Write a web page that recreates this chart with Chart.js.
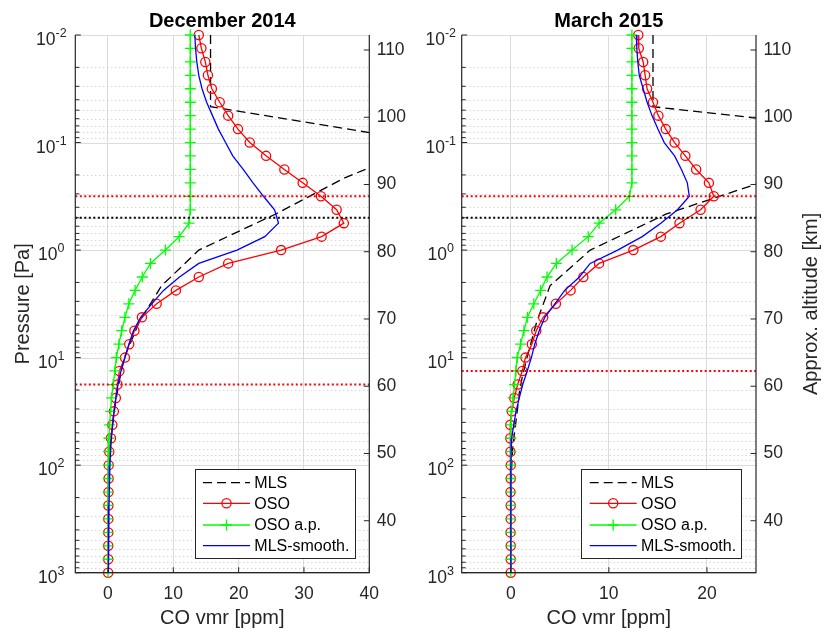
<!DOCTYPE html>
<html>
<head>
<meta charset="utf-8">
<script src="https://cdn.jsdelivr.net/npm/chart.js@4.4.1/dist/chart.umd.min.js"></script>
<style>
  html, body { margin: 0; padding: 0; background: #ffffff; }
  #wrap { position: relative; width: 826px; height: 635px; overflow: hidden; background: #ffffff; }
  .panel { position: absolute; top: 0; width: 413px; height: 635px; }
  canvas { display: block; }
</style>
</head>
<body>
<div id="wrap">
  <div class="panel" style="left:0px"><canvas id="dec" width="413" height="635"></canvas></div>
  <div class="panel" style="left:413px"><canvas id="mar" width="413" height="635"></canvas></div>
</div>
<script>
// ---- retrieval grid (pressure, Pa) ----
const osoPressure = [0.01, 0.0133, 0.0178, 0.0237, 0.0316, 0.0422, 0.0562, 0.075,
  0.1, 0.133, 0.178, 0.237, 0.316, 0.422, 0.562, 0.75,
  1, 1.33, 1.78, 2.37, 3.16, 4.22, 5.62, 7.5,
  10, 13.3, 17.8, 23.7, 31.6, 42.2, 56.2, 75,
  100, 133, 178, 237, 316, 422, 562, 750, 1000];

// ---- MLS pressure levels (Pa) ----
const mlsPressure = [0.01, 0.0215, 0.0464, 0.1, 0.215, 0.464, 1, 2.15, 4.64, 10,
  14.7, 21.5, 31.6, 46.4, 68.1, 100, 147, 215, 316, 464, 681, 1000];

// ---- December 2014 profiles (CO vmr, ppm) ----
const decOso = [13.9, 14.3, 14.9, 15.3, 15.9, 17.1, 18.4, 19.9,
  21.7, 24.2, 27.0, 29.8, 32.6, 35.0, 36.1, 32.7,
  26.5, 18.4, 13.9, 10.4, 7.45, 5.2, 4.05, 3.25,
  2.6, 1.75, 1.45, 1.2, 0.9, 0.67, 0.45, 0.2,
  0.12, 0.1, 0.08, 0.06, 0.05, 0.05, 0.04, 0.04, 0.03];
const decApriori = [12.6, 12.6, 12.6, 12.6, 12.6, 12.6, 12.6, 12.6,
  12.6, 12.6, 12.6, 12.6, 12.6, 12.6, 12.4, 10.9,
  8.8, 6.5, 5.25, 4.15, 3.2, 2.6, 2.1, 1.68,
  1.28, 1.07, 0.8, 0.55, 0.4, 0.25, 0.15, 0.08,
  0.05, 0.04, 0.03, 0.03, 0.02, 0.02, 0.02, 0.01, 0.01];
const decMlsSmooth = [13.3, 13.4, 13.6, 13.9, 14.4, 15.1, 16.0, 16.9,
  18.0, 19.1, 20.7, 22.2, 23.8, 25.5, 26.1, 24.0,
  19.75, 13.9, 10.95, 8.5, 6.7, 5.0, 3.9, 3.2,
  2.6, 2.0, 1.53, 1.22, 0.95, 0.72, 0.53, 0.4,
  0.3, 0.23, 0.18, 0.15, 0.12, 0.1, 0.08, 0.06, 0.05];
const decMls = [15.7, 15.7, 15.7, 49.3, 36.1, 25.6, 13.9, 8.2, 4.8, 2.5,
  1.9, 1.4, 0.95, 0.6, 0.35, 0.15, 0.08, 0.05, 0.04, 0.03, 0.03, 0.02];

// ---- March 2015 profiles (CO vmr, ppm) ----
const marOso = [13.0, 13.05, 13.5, 13.7, 13.9, 14.5, 15.05, 15.8,
  16.7, 17.8, 18.9, 20.2, 20.7, 19.35, 17.2, 15.3,
  12.5, 9.0, 7.4, 6.1, 4.6, 3.3, 2.6, 2.15,
  1.5, 1.18, 0.7, 0.36, 0.1, -0.05, -0.05, -0.03,
  0.0, 0.0, -0.02, 0.0, 0.0, -0.02, 0.0, 0.0, 0.0];
const marApriori = [12.35, 12.35, 12.35, 12.35, 12.35, 12.35, 12.35, 12.35,
  12.35, 12.35, 12.35, 12.35, 12.1, 10.7, 9.0, 7.9,
  6.25, 4.65, 3.7, 3.05, 2.35, 1.7, 1.35, 1.0,
  0.66, 0.52, 0.38, 0.24, 0.08, 0.02, 0.01, 0.01,
  0.0, 0.0, 0.0, 0.0, 0.0, 0.0, 0.0, 0.0, 0.0];
const marMlsSmooth = [12.8, 12.85, 12.95, 13.1, 13.5, 13.9, 14.4, 15.0,
  15.65, 16.7, 17.4, 18.0, 18.2, 17.0, 15.3, 13.4,
  10.9, 8.1, 7.0, 5.5, 4.5, 3.47, 2.9, 2.45,
  2.1, 1.68, 1.22, 0.87, 0.54, 0.3, 0.1, 0.04,
  0.02, 0.02, 0.01, 0.01, 0.01, 0.0, 0.0, 0.0, 0.0];
const marMls = [14.5, 14.5, 14.5, 47.6, 26.8, 15.8, 8.1, 4.0, 2.65, 1.66,
  1.2, 0.86, 0.66, 0.43, 0.2, 0.1, 0.06, 0.04, 0.03, 0.03, 0.02, 0.02];

// ---- horizontal marker levels (Pa) ----
const decRangeLimits = [0.316, 17.8];
const marRangeLimits = [0.316, 13.3];
const peakLevel = [0.5];

// ---- axis ticks ----
const pressureTicks = [0.01, 0.1, 1, 10, 100, 1000];
const altitudeTicks = [40, 50, 60, 70, 80, 90, 100, 110];
const decVmrTicks = [0, 10, 20, 30, 40];
const marVmrTicks = [0, 10, 20];
const legendLabels = ['MLS', 'OSO', 'OSO a.p.', 'MLS-smooth.'];

const FONT = '"Liberation Sans", Arial, Helvetica, sans-serif';
const AXC = '#262626';

function pairs(xs, ps) { return ps.map((p, i) => ({ x: xs[i], y: p })); }
function hline(p, x0, x1) { return [{ x: x0, y: p }, { x: x1, y: p }]; }

// Axes frame, grid, log labels, titles and legend
const framePlugin = {
  id: 'frame',
  beforeDatasetsDraw(chart, args, o) {
    const { ctx, chartArea: a } = chart;
    const ys = chart.scales.y;
    ctx.save();
    // minor horizontal grid (dotted)
    ctx.lineWidth = 1;
    ctx.strokeStyle = '#c4c4c4';
    ctx.setLineDash([1, 3]);
    for (let i = 0; i < pressureTicks.length - 1; i++) {
      for (let m = 2; m <= 9; m++) {
        const y = Math.round(ys.getPixelForValue(pressureTicks[i] * m)) + 0.5;
        ctx.beginPath(); ctx.moveTo(a.left, y); ctx.lineTo(a.right, y); ctx.stroke();
      }
    }
    // major horizontal grid
    ctx.setLineDash([]);
    ctx.strokeStyle = '#dcdcdc';
    for (const p of pressureTicks) {
      const y = Math.round(ys.getPixelForValue(p)) + 0.5;
      ctx.beginPath(); ctx.moveTo(a.left, y); ctx.lineTo(a.right, y); ctx.stroke();
    }
    ctx.restore();
  },
  afterDraw(chart, args, o) {
    const { ctx, chartArea: a } = chart;
    const xs = chart.scales.x, ys = chart.scales.y, alt = chart.scales.alt;
    ctx.save();
    ctx.strokeStyle = AXC;
    ctx.fillStyle = AXC;
    ctx.lineWidth = 1.2;
    ctx.setLineDash([]);
    // axis lines
    ctx.beginPath();
    ctx.moveTo(a.left, a.top); ctx.lineTo(a.left, a.bottom); ctx.lineTo(a.right, a.bottom); ctx.lineTo(a.right, a.top);
    ctx.stroke();
    // ticks on the pressure axis (inward)
    ctx.lineWidth = 1;
    const major = 5.5, minor = 4;
    for (const p of pressureTicks) {
      const y = ys.getPixelForValue(p);
      ctx.beginPath(); ctx.moveTo(a.left, y); ctx.lineTo(a.left + major, y); ctx.stroke();
    }
    for (let i = 0; i < pressureTicks.length - 1; i++) {
      for (let m = 2; m <= 9; m++) {
        const y = ys.getPixelForValue(pressureTicks[i] * m);
        ctx.beginPath(); ctx.moveTo(a.left, y); ctx.lineTo(a.left + minor, y); ctx.stroke();
      }
    }
    // ticks on the altitude axis
    for (const h of altitudeTicks) {
      const y = alt.getPixelForValue(h);
      ctx.beginPath(); ctx.moveTo(a.right, y); ctx.lineTo(a.right - major, y); ctx.stroke();
    }
    // ticks on the vmr axis
    for (const v of o.vmrTicks) {
      const x = xs.getPixelForValue(v);
      ctx.beginPath(); ctx.moveTo(x, a.bottom); ctx.lineTo(x, a.bottom - major); ctx.stroke();
    }
    // pressure labels 10^n
    for (const p of pressureTicks) {
      const y = ys.getPixelForValue(p);
      const e = String(Math.round(Math.log10(p)));
      ctx.font = '17.5px ' + FONT;
      const wb = ctx.measureText('10').width;
      ctx.font = '12.5px ' + FONT;
      const we = ctx.measureText(e).width;
      const x0 = a.left - o.logLabelOffset - (wb + we) / 2;
      ctx.textAlign = 'left';
      ctx.textBaseline = 'alphabetic';
      ctx.font = '17.5px ' + FONT;
      ctx.fillText('10', x0, y + 10);
      ctx.font = '12.5px ' + FONT;
      ctx.fillText(e, x0 + wb, y + 2);
    }
    // title
    const cx = (a.left + a.right) / 2;
    ctx.fillStyle = '#000000';
    ctx.textAlign = 'center';
    ctx.font = 'bold 20px ' + FONT;
    ctx.fillText(o.title, cx, 26.7);
    // x label
    ctx.fillStyle = AXC;
    ctx.font = '20px ' + FONT;
    ctx.fillText('CO vmr [ppm]', cx, 624);
    // y labels
    const cy = (a.top + a.bottom) / 2;
    if (o.leftLabel) {
      ctx.save(); ctx.translate(o.leftLabelX, cy); ctx.rotate(-Math.PI / 2);
      ctx.fillText(o.leftLabel, 0, 0); ctx.restore();
    }
    if (o.rightLabel) {
      ctx.save(); ctx.translate(o.rightLabelX, cy); ctx.rotate(-Math.PI / 2);
      ctx.fillText(o.rightLabel, 0, 0); ctx.restore();
    }
    // legend
    const lw = 159.6, lh = 89.3;
    const lx = a.right - 15 - lw, ly = a.bottom - 14.4 - lh;
    ctx.fillStyle = '#ffffff';
    ctx.fillRect(lx, ly, lw, lh);
    ctx.strokeStyle = AXC; ctx.lineWidth = 1;
    ctx.strokeRect(Math.round(lx) + 0.5, Math.round(ly) + 0.5, Math.round(lw), Math.round(lh));
    const rows = [13.7, 34.3, 56, 76.7];
    const dsOrder = [0, 1, 2, 3];
    dsOrder.forEach((di, r) => {
      const ds = chart.data.datasets[di];
      const y = ly + rows[r];
      const x0 = lx + 8.3, x1 = lx + 55.3, xm = (x0 + x1) / 2;
      ctx.save();
      ctx.strokeStyle = ds.borderColor;
      ctx.lineWidth = ds.borderWidth;
      ctx.setLineDash(ds.borderDash || []);
      ctx.beginPath(); ctx.moveTo(x0, y); ctx.lineTo(x1, y); ctx.stroke();
      ctx.setLineDash([]);
      if (ds.pointStyle === 'circle') {
        ctx.lineWidth = ds.pointBorderWidth;
        ctx.beginPath(); ctx.arc(xm, y, ds.pointRadius, 0, Math.PI * 2); ctx.stroke();
      } else if (ds.pointStyle === 'cross') {
        ctx.lineWidth = ds.pointBorderWidth;
        const r0 = ds.pointRadius;
        ctx.beginPath(); ctx.moveTo(xm - r0, y); ctx.lineTo(xm + r0, y);
        ctx.moveTo(xm, y - r0); ctx.lineTo(xm, y + r0); ctx.stroke();
      }
      ctx.restore();
      ctx.fillStyle = '#000000';
      ctx.font = '16px ' + FONT;
      ctx.textAlign = 'left';
      ctx.textBaseline = 'middle';
      ctx.fillText(ds.label, lx + 59.6, y + 1);
    });
    ctx.restore();
  }
};

function buildPanel(id, p) {
  const datasets = [
    { label: legendLabels[0], data: pairs(p.mls, mlsPressure), borderColor: '#000000', borderWidth: 1.3,
      borderDash: [9, 5], pointRadius: 0, clip: 0, order: 3 },
    { label: legendLabels[1], data: pairs(p.oso, osoPressure), borderColor: '#ff0000', borderWidth: 1.3,
      pointStyle: 'circle', pointRadius: 4.6, pointBorderWidth: 1.3, pointBorderColor: '#ff0000',
      pointBackgroundColor: 'rgba(0,0,0,0)', clip: false, order: 2 },
    { label: legendLabels[2], data: pairs(p.apriori, osoPressure), borderColor: '#00ff00', borderWidth: 1.3,
      pointStyle: 'cross', pointRadius: 5.5, pointBorderWidth: 1.3, pointBorderColor: '#00ff00',
      pointBackgroundColor: '#00ff00', clip: false, order: 1 },
    { label: legendLabels[3], data: pairs(p.smooth, osoPressure), borderColor: '#0000ff', borderWidth: 1.3,
      pointRadius: 0, clip: 0, order: 0 },
    { label: 'range-top', data: hline(p.limits[0], p.xMin, p.xMax), borderColor: '#ff0000', borderWidth: 2,
      borderDash: [2, 2.5], pointRadius: 0, clip: 0, order: -1 },
    { label: 'range-bottom', data: hline(p.limits[1], p.xMin, p.xMax), borderColor: '#ff0000', borderWidth: 2,
      borderDash: [2, 2.5], pointRadius: 0, clip: 0, order: -1 },
    { label: 'peak', data: hline(peakLevel[0], p.xMin, p.xMax), borderColor: '#000000', borderWidth: 2,
      borderDash: [2, 2.5], pointRadius: 0, clip: 0, order: -1 }
  ];
  return new Chart(document.getElementById(id), {
    type: 'line',
    data: { datasets },
    options: {
      responsive: false,
      animation: false,
      devicePixelRatio: 1,
      events: [],
      layout: { padding: { top: 35, left: 0, right: 0, bottom: 0 } },
      elements: { line: { tension: 0, fill: false } },
      plugins: {
        legend: { display: false },
        tooltip: { enabled: false },
        title: { display: false },
        frame: p.frame
      },
      scales: {
        x: {
          type: 'linear', position: 'bottom', min: p.xMin, max: p.xMax,
          afterBuildTicks: s => { s.ticks = p.vmrTicks.map(v => ({ value: v })); },
          afterFit: s => { s.height = 635 - 572.7; },
          grid: { display: true, color: '#dcdcdc', lineWidth: 1, drawTicks: false },
          border: { display: false },
          ticks: { font: { family: FONT, size: 17.5 }, color: AXC, padding: 10.5, maxRotation: 0, autoSkip: false }
        },
        y: {
          type: 'logarithmic', position: 'left', reverse: true, min: 0.01, max: 1000,
          afterBuildTicks: s => { s.ticks = pressureTicks.map(v => ({ value: v })); },
          afterFit: s => { s.width = p.left; },
          grid: { display: false, drawTicks: false },
          border: { display: false },
          ticks: { display: false }
        },
        alt: {
          type: 'linear', position: 'right', min: 32.27, max: 112.23,
          afterBuildTicks: s => { s.ticks = altitudeTicks.map(v => ({ value: v })); },
          afterFit: s => { s.width = 413 - p.right; },
          grid: { display: false, drawTicks: false },
          border: { display: false },
          ticks: { font: { family: FONT, size: 17.5 }, color: AXC, padding: 7.4, autoSkip: false }
        }
      }
    },
    plugins: [framePlugin]
  });
}

buildPanel('dec', {
  mls: decMls, oso: decOso, apriori: decApriori, smooth: decMlsSmooth,
  limits: decRangeLimits, xMin: -5, xMax: 40, vmrTicks: decVmrTicks,
  left: 75.3, right: 369.3,
  frame: { title: 'December 2014', vmrTicks: decVmrTicks, logLabelOffset: 24,
    leftLabel: 'Pressure [Pa]', leftLabelX: 28.5, rightLabel: null }
});
buildPanel('mar', {
  mls: marMls, oso: marOso, apriori: marApriori, smooth: marMlsSmooth,
  limits: marRangeLimits, xMin: -5, xMax: 25, vmrTicks: marVmrTicks,
  left: 461.7 - 413, right: 756 - 413,
  frame: { title: 'March 2015', vmrTicks: marVmrTicks, logLabelOffset: 21,
    leftLabel: null, rightLabel: 'Approx. altitude [km]', rightLabelX: 817 - 413 }
});
</script>
</body>
</html>
